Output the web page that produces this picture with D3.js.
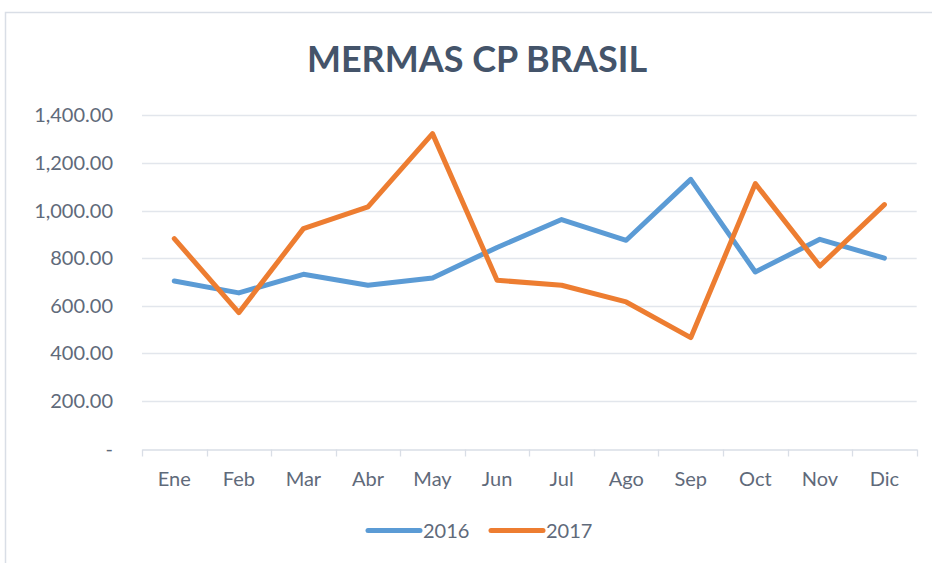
<!DOCTYPE html>
<html>
<head>
<meta charset="utf-8">
<script src="https://cdn.jsdelivr.net/npm/d3@7/dist/d3.min.js"></script>
<style>
  html, body { margin: 0; padding: 0; background: #fff; }
  svg { display: block; }
  text { font-family: Lato, "Open Sans", sans-serif; }
</style>
</head>
<body>
<svg id="chart" width="932" height="563"></svg>
<script>
const months = ["Ene","Feb","Mar","Abr","May","Jun","Jul","Ago","Sep","Oct","Nov","Dic"];
const series2016 = [704, 654, 732, 686, 717, 845, 962, 875, 1131, 742, 879, 800];
const series2017 = [882, 571, 924, 1015, 1323, 707, 686, 616, 466, 1113, 767, 1025];
const yTicks = [0, 200, 400, 600, 800, 1000, 1200, 1400];
const seriesNames = ["2016", "2017"];
const colors = ["#5B9BD5", "#ED7D31"];
const title = "MERMAS CP BRASIL";

const svg = d3.select("#chart");
const W = 932, H = 563;
const m = { left: 142, right: 932 - 916.7, top: 115.3, bottom: H - 448.6 };

// chart border
svg.append("rect").attr("x", 5.5).attr("y", 12.5).attr("width", 940).attr("height", 600)
  .attr("fill", "none").attr("stroke", "#D9DEE6").attr("stroke-width", 1.5);

const x = d3.scaleBand().domain(months).range([m.left, W - m.right]);
const y = d3.scaleLinear().domain([0, 1400]).range([H - m.bottom, m.top]);

// gridlines
svg.append("g").selectAll("line").data(yTicks.filter(d => d > 0)).join("line")
  .attr("x1", m.left).attr("x2", W - m.right)
  .attr("y1", d => Math.round(y(d)) + 0.5).attr("y2", d => Math.round(y(d)) + 0.5)
  .attr("stroke", "#E2E6EC").attr("stroke-width", 1.3);

// y axis labels
const fmt = d3.format(",.2f");
svg.append("g").selectAll("text").data(yTicks).join("text")
  .attr("x", 113).attr("y", d => y(d))
  .attr("dy", "0.35em").attr("text-anchor", "end")
  .attr("font-size", 20).attr("fill", "#5F6a7a")
  .text(d => d === 0 ? "-" : fmt(d));

// x axis
const xAxis = d3.axisBottom(x).tickSize(0).tickFormat(d => d);
const gx = svg.append("g").attr("transform", `translate(0,${Math.round(y(0)) + 0.5})`).call(xAxis);
gx.select(".domain").attr("stroke", "#D9DEE6").attr("stroke-width", 1.3);
gx.selectAll(".tick text").attr("font-size", 20).attr("fill", "#5F6a7a")
  .attr("font-family", "Lato, 'Open Sans', sans-serif").attr("dy", 0).attr("y", 36);
// boundary tick marks
const bounds = months.map(d => x(d)).concat([W - m.right]);
gx.append("g").selectAll("line").data(bounds).join("line")
  .attr("x1", d => Math.round(d) + 0.5).attr("x2", d => Math.round(d) + 0.5)
  .attr("y1", 0).attr("y2", 7)
  .attr("stroke", "#D9DEE6").attr("stroke-width", 1.3);

// lines
const line = d3.line().x((d, i) => x(months[i]) + x.bandwidth() / 2).y(d => y(d));
[series2016, series2017].forEach((s, k) => {
  svg.append("path").datum(s).attr("d", line)
    .attr("fill", "none").attr("stroke", colors[k]).attr("stroke-width", 5)
    .attr("stroke-linejoin", "round").attr("stroke-linecap", "round");
});

// title
svg.append("text").attr("x", 477).attr("y", 72).attr("text-anchor", "middle")
  .attr("font-size", 36).attr("font-weight", "bold").attr("fill", "#44546A")
  .text(title);

// legend
const legendItems = [{ x1: 368, x2: 420, tx: 423 }, { x1: 491, x2: 543, tx: 546 }];
legendItems.forEach((it, k) => {
  svg.append("line").attr("x1", it.x1).attr("x2", it.x2).attr("y1", 530.5).attr("y2", 530.5)
    .attr("stroke", colors[k]).attr("stroke-width", 5).attr("stroke-linecap", "round");
  svg.append("text").attr("x", it.tx).attr("y", 537.5).attr("font-size", 20)
    .attr("fill", "#5F6a7a").text(seriesNames[k]);
});
</script>
</body>
</html>
